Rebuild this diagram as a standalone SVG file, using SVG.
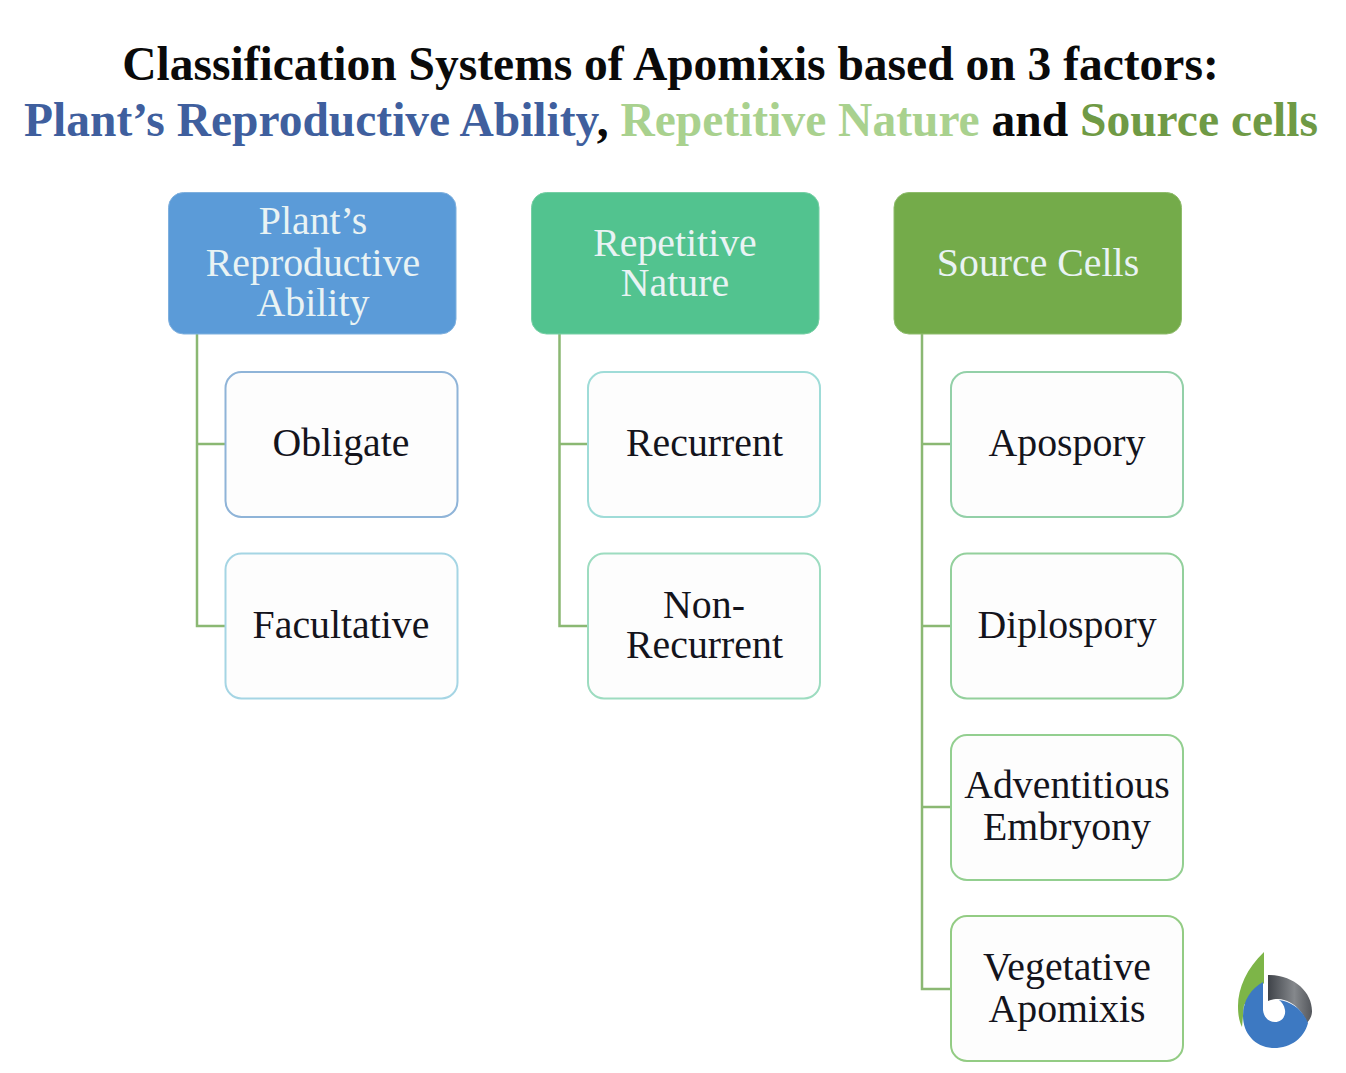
<svg xmlns="http://www.w3.org/2000/svg" width="1346" height="1073" viewBox="0 0 1346 1073">
<style>
text{font-family:"Liberation Serif","Times New Roman",serif;text-anchor:middle}
.t{font-size:47.5px;font-weight:bold;fill:#0a0a0a}
.h{font-size:39.8px;fill:#e9f3f4}
.c{font-size:39.8px;fill:#14141c}
.head{stroke-width:1}
.child{fill:#fdfdfd;stroke-width:2}
.conn{fill:none;stroke:#8bb873;stroke-width:2.5}
</style>
<defs>
<linearGradient id="dark" x1="0" y1="0" x2="1" y2="0"><stop offset="0" stop-color="#3f4349"/><stop offset="0.6" stop-color="#85888c"/><stop offset="1" stop-color="#54575c"/></linearGradient>
</defs>
<rect width="1346" height="1073" fill="#ffffff"/>
<g id="title">
<text class="t" x="670.500" y="80">Classification Systems of Apomixis based on 3 factors:</text>
<text class="t" x="671" y="136"><tspan fill="#3f5f9e">Plant’s Reproductive Ability</tspan>, <tspan fill="#a9d18e">Repetitive Nature</tspan> and <tspan fill="#6f9a45">Source cells</tspan></text>
</g>
<g id="connectors">
<path class="conn" d="M197 334V626H225M197 444H225"/>
<path class="conn" d="M559.500 334V626H588M559.500 444H588"/>
<path class="conn" d="M922 334V989H951M922 444H951M922 626H951M922 807H951"/>
</g>
<g id="head-plant"><rect class="head" x="168.500" y="192.500" width="287.500" height="141.500" rx="15" fill="#5b9bd8" stroke="#7fb0de"/>
<text class="h" x="313" y="234">Plant’s</text><text class="h" x="313" y="276">Reproductive</text><text class="h" x="313" y="316">Ability</text></g>
<g id="head-repetitive"><rect class="head" x="531.500" y="192.500" width="287.500" height="141.500" rx="15" fill="#52c38f" stroke="#76cfa5"/>
<text class="h" x="675" y="256">Repetitive</text><text class="h" x="675" y="296">Nature</text></g>
<g id="head-source"><rect class="head" x="894" y="192.500" width="287.500" height="141.500" rx="15" fill="#74ab4a" stroke="#8fbc6c"/>
<text class="h" x="1038" y="276">Source Cells</text></g>
<g id="obligate"><rect class="child" x="225.500" y="372" width="232" height="145" rx="16" stroke="#8fb4d8"/><text class="c" x="341" y="456">Obligate</text></g>
<g id="facultative"><rect class="child" x="225.500" y="553.500" width="232" height="145" rx="16" stroke="#a5d5e4"/><text class="c" x="341" y="638">Facultative</text></g>
<g id="recurrent"><rect class="child" x="588" y="372" width="232" height="145" rx="16" stroke="#9fdcd8"/><text class="c" x="704.500" y="456">Recurrent</text></g>
<g id="non-recurrent"><rect class="child" x="588" y="553.500" width="232" height="145" rx="16" stroke="#9ddcc0"/><text class="c" x="704" y="618">Non-</text><text class="c" x="704.500" y="658">Recurrent</text></g>
<g id="apospory"><rect class="child" x="951" y="372" width="232" height="145" rx="16" stroke="#93d0a8"/><text class="c" x="1067" y="456">Apospory</text></g>
<g id="diplospory"><rect class="child" x="951" y="553.500" width="232" height="145" rx="16" stroke="#93d09c"/><text class="c" x="1067" y="638">Diplospory</text></g>
<g id="adventitious"><rect class="child" x="951" y="735" width="232" height="145" rx="16" stroke="#93cf90"/><text class="c" x="1067" y="798">Adventitious</text><text class="c" x="1067" y="840">Embryony</text></g>
<g id="vegetative"><rect class="child" x="951" y="916" width="232" height="145" rx="16" stroke="#93cc84"/><text class="c" x="1067" y="980">Vegetative</text><text class="c" x="1067" y="1022">Apomixis</text></g>
<g id="logo">
<path fill="#7db548" d="M1264 952C1247 968 1238 988 1238 1006C1238 1014 1239 1021 1242 1027L1244 1005L1264 983Z"/>
<path fill="url(#dark)" d="M1268 975C1294 975 1312 992 1312 1011C1312 1015 1311 1018 1307 1023C1302 1010 1294 1003 1284 1000C1279 998 1273 999 1268 1001Z"/>
<path fill="#3d79c2" d="M1263 982V1010C1264 1018 1269 1022 1275 1022C1282 1022 1286 1016 1285 1010C1284 1005 1282 1002 1279 1000C1292 1002 1302 1009 1308 1023C1304 1038 1291 1048 1274 1048C1256 1048 1243 1034 1243 1016C1243 1000 1251 989 1263 982Z"/>
</g>
</svg>
